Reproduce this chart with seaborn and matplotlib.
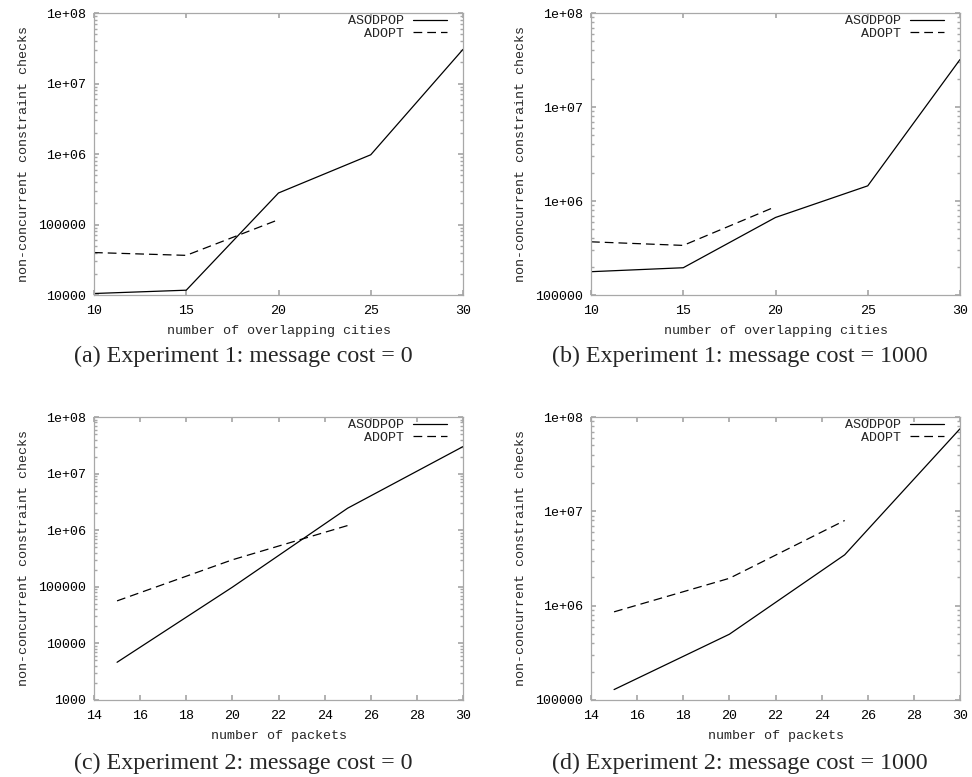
import numpy as np
import pandas as pd
import matplotlib
matplotlib.use('Agg')
import matplotlib.pyplot as plt
import matplotlib.ticker as mticker
import seaborn as sns

# experiment 1: number of overlapping cities
cities = [10, 15, 20, 25, 30]
cities_adopt = [10, 15, 20]
e1_cost0_asodpop = [10500, 11700, 280000, 975000, 30500000]
e1_cost0_adopt = [40000, 36500, 117000]
e1_cost1000_asodpop = [177000, 195000, 668000, 1450000, 32000000]
e1_cost1000_adopt = [368000, 337000, 870000]

# experiment 2: number of packets
packets = [15, 20, 25, 30]
packets_adopt = [15, 20, 25]
e2_cost0_asodpop = [4640, 98500, 2450000, 30000000]
e2_cost0_adopt = [56400, 300000, 1210000]
e2_cost1000_asodpop = [129000, 498000, 3460000, 75000000]
e2_cost1000_adopt = [860000, 1950000, 8000000]

algos = ['ASODPOP', 'ADOPT']
captions = ['(a) Experiment 1: message cost = 0',
            '(b) Experiment 1: message cost = 1000',
            '(c) Experiment 2: message cost = 0',
            '(d) Experiment 2: message cost = 1000']

sns.set_theme(style='ticks')
plt.rcParams['font.family'] = ['Liberation Mono', 'DejaVu Sans']
plt.rcParams['font.size'] = 9.6

def frame(x1, y1, x2, y2):
    return pd.DataFrame({
        'x': list(x1) + list(x2),
        'y': list(y1) + list(y2),
        'algo': [algos[0]] * len(x1) + [algos[1]] * len(x2),
    })

panels = [
    dict(df=frame(cities, e1_cost0_asodpop, cities_adopt, e1_cost0_adopt),
         xlabel='number of overlapping cities', xticks=range(10, 31, 5),
         xlim=(10, 30), ylim=(1e4, 1e8)),
    dict(df=frame(cities, e1_cost1000_asodpop, cities_adopt, e1_cost1000_adopt),
         xlabel='number of overlapping cities', xticks=range(10, 31, 5),
         xlim=(10, 30), ylim=(1e5, 1e8)),
    dict(df=frame(packets, e2_cost0_asodpop, packets_adopt, e2_cost0_adopt),
         xlabel='number of packets', xticks=range(14, 31, 2),
         xlim=(14, 30), ylim=(1e3, 1e8)),
    dict(df=frame(packets, e2_cost1000_asodpop, packets_adopt, e2_cost1000_adopt),
         xlabel='number of packets', xticks=range(14, 31, 2),
         xlim=(14, 30), ylim=(1e5, 1e8)),
]

W, H = 972, 777
boxes = [(94, 13, 463, 295), (591, 13, 960, 295),
         (94, 417, 463, 700), (591, 417, 960, 700)]
cap_pos = [(243, 356), (740, 356), (243, 763), (740, 763)]

fig = plt.figure(figsize=(W / 100, H / 100), dpi=100)
frame_col = '#a8a8a8'

for p, (l, t, r, b), cap, (cx, cy) in zip(panels, boxes, captions, cap_pos):
    ax = fig.add_axes([l / W, 1 - b / H, (r - l) / W, (b - t) / H])
    sns.lineplot(data=p['df'], x='x', y='y', style='algo', style_order=algos,
                 dashes={'ASODPOP': '', 'ADOPT': (7, 4)}, color='black',
                 linewidth=0.9, errorbar=None, legend=False, ax=ax)
    ax.set_yscale('log')
    ax.set_xlim(*p['xlim'])
    ax.set_ylim(*p['ylim'])
    ax.set_xticks(list(p['xticks']))
    ax.yaxis.set_major_locator(mticker.LogLocator(base=10))
    ax.yaxis.set_minor_locator(mticker.LogLocator(base=10, subs=np.arange(2, 10)))
    ax.yaxis.set_minor_formatter(mticker.NullFormatter())
    ax.yaxis.set_major_formatter(mticker.FuncFormatter(lambda v, pos: '%g' % v))
    ax.tick_params(which='both', direction='in', top=True, right=True,
                   color=frame_col, labelsize=9.6, labelcolor='black')
    ax.tick_params(axis='y', which='major', length=3.5, pad=5.5)
    ax.tick_params(axis='y', which='minor', length=2)
    ax.tick_params(axis='x', which='major', length=3.5, pad=7)
    for s in ax.spines.values():
        s.set_color(frame_col)
        s.set_linewidth(0.9)
    ax.set_xlabel(p['xlabel'], fontsize=9.6, labelpad=6)
    ax.set_ylabel('non-concurrent constraint checks', fontsize=9.6, labelpad=6)
    ax.legend(ax.lines[:2], algos, loc='upper right', frameon=False,
              markerfirst=False, fontsize=9.6, handlelength=2.55,
              handletextpad=0.68, labelspacing=0.0, borderpad=0,
              borderaxespad=0, bbox_to_anchor=(1 - 16 / (r - l), 1 - 2 / (b - t)))
    fig.text(cx / W, 1 - cy / H, cap, ha='center', va='center',
             fontsize=17.3, family=['Liberation Serif', 'DejaVu Serif'])

fig.savefig('out.png', dpi=100)
